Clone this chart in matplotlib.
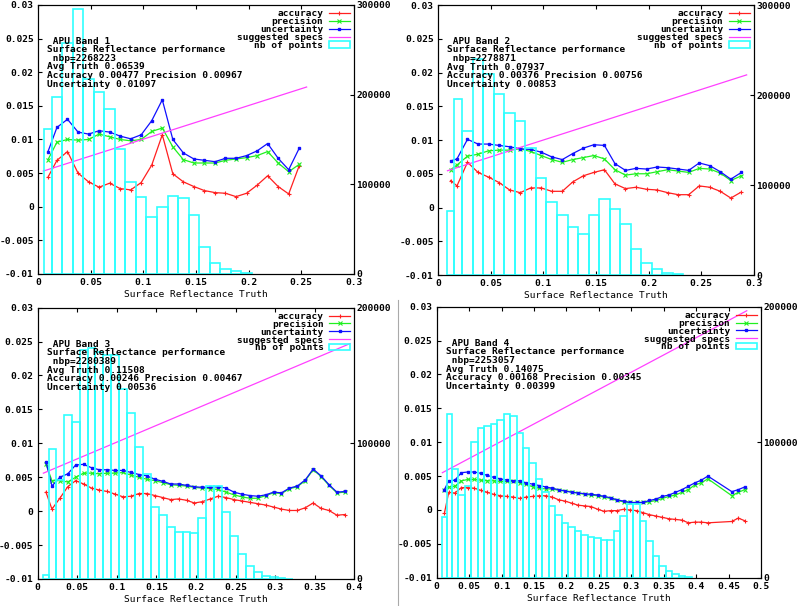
import numpy as np
import matplotlib.pyplot as plt
from matplotlib.lines import Line2D
from matplotlib.ticker import MultipleLocator, FuncFormatter

plt.rcParams['font.family'] = ['DejaVu Sans Mono']
plt.rcParams['font.weight'] = 'bold'
plt.rcParams['font.size'] = 6.8
plt.rcParams['axes.unicode_minus'] = False

# ---------------- Band 1
x1 = [0.0095, 0.018, 0.028, 0.038, 0.048, 0.058, 0.068, 0.078, 0.088, 0.098,
      0.108, 0.118, 0.128, 0.138, 0.148, 0.158, 0.168, 0.178, 0.188, 0.198,
      0.208, 0.218, 0.228, 0.238, 0.248]
acc1 = [0.0044, 0.0069, 0.0082, 0.0050, 0.0037, 0.0029, 0.0035, 0.0027, 0.0025, 0.0036,
        0.0062, 0.0107, 0.0049, 0.0037, 0.0030, 0.0024, 0.0021, 0.0020, 0.0015, 0.0020,
        0.0032, 0.0046, 0.0030, 0.0019, 0.0061]
prec1 = [0.0070, 0.0096, 0.0100, 0.0099, 0.0100, 0.0108, 0.0104, 0.0100, 0.0098, 0.0100,
         0.0112, 0.0117, 0.0089, 0.0070, 0.0065, 0.0065, 0.0065, 0.0069, 0.0071, 0.0073,
         0.0076, 0.0082, 0.0065, 0.0052, 0.0063]
unc1 = [0.0082, 0.0118, 0.0130, 0.0111, 0.0108, 0.0113, 0.0111, 0.0105, 0.0101, 0.0107,
        0.0128, 0.0159, 0.0100, 0.0080, 0.0071, 0.0069, 0.0067, 0.0072, 0.0072, 0.0076,
        0.0083, 0.0094, 0.0072, 0.0055, 0.0087]
n1 = [161500, 197500, 257300, 295200, 217600, 202400, 183800, 139200, 102100, 85400,
      63100, 74300, 87300, 84300, 65400, 30400, 12300, 5600, 3000, 1100]
spec1_x = [0.005, 0.255]
spec1_y = [0.0053, 0.0178]

# ---------------- Band 2
x2 = [0.012, 0.018, 0.028, 0.038, 0.048, 0.058, 0.068, 0.078, 0.088, 0.098,
      0.108, 0.118, 0.128, 0.138, 0.148, 0.158, 0.168, 0.178, 0.188, 0.198,
      0.208, 0.218, 0.228, 0.238, 0.248, 0.258, 0.268, 0.278, 0.288]
acc2 = [0.0040, 0.0032, 0.0067, 0.0052, 0.0045, 0.0037, 0.0026, 0.0022, 0.0029, 0.0029,
        0.0024, 0.0024, 0.0038, 0.0047, 0.0052, 0.0056, 0.0035, 0.0028, 0.0030, 0.0027,
        0.0026, 0.0022, 0.0019, 0.0019, 0.0032, 0.0030, 0.0024, 0.0014, 0.0023]
prec2 = [0.0056, 0.0063, 0.0076, 0.0079, 0.0084, 0.0085, 0.0085, 0.0087, 0.0083, 0.0077,
         0.0071, 0.0067, 0.0071, 0.0074, 0.0077, 0.0072, 0.0056, 0.0048, 0.0050, 0.0050,
         0.0053, 0.0056, 0.0054, 0.0052, 0.0058, 0.0057, 0.0051, 0.0040, 0.0047]
unc2 = [0.0069, 0.0072, 0.0101, 0.0094, 0.0094, 0.0092, 0.0090, 0.0087, 0.0086, 0.0082,
        0.0075, 0.0071, 0.0080, 0.0088, 0.0093, 0.0092, 0.0065, 0.0055, 0.0058, 0.0057,
        0.0060, 0.0059, 0.0057, 0.0055, 0.0066, 0.0062, 0.0053, 0.0042, 0.0052]
n2 = [71500, 195200, 160400, 240000, 223300, 201500, 179600, 171500, 140700, 107800,
      81100, 66300, 53700, 45200, 67000, 84800, 73700, 56700, 29300, 13000,
      6300, 2600, 700]
spec2_x = [0.009, 0.293]
spec2_y = [0.00545, 0.01965]

# ---------------- Band 3
x3 = [0.0105, 0.018, 0.028, 0.038, 0.048, 0.058, 0.068, 0.078, 0.088, 0.098,
      0.108, 0.118, 0.128, 0.138, 0.148, 0.158, 0.168, 0.178, 0.188, 0.198,
      0.208, 0.218, 0.228, 0.238, 0.248, 0.258, 0.268, 0.278, 0.288, 0.298,
      0.308, 0.318, 0.328, 0.338, 0.348, 0.358, 0.368, 0.378, 0.388]
acc3 = [0.0028, 0.0003, 0.0019, 0.0036, 0.0045, 0.0040, 0.0034, 0.0031, 0.0029, 0.0025,
        0.0021, 0.0022, 0.0026, 0.0026, 0.0023, 0.0020, 0.0017, 0.0018, 0.0016, 0.0012,
        0.0014, 0.0018, 0.0022, 0.0020, 0.0017, 0.0015, 0.0013, 0.0011, 0.0009, 0.0006,
        0.0003, 0.0001, 0.0001, 0.0005, 0.0012, 0.0004, 0.0001, -0.0006, -0.0005]
prec3 = [0.0069, 0.0045, 0.0045, 0.0043, 0.0050, 0.0056, 0.0056, 0.0055, 0.0056, 0.0056,
         0.0057, 0.0053, 0.0050, 0.0047, 0.0045, 0.0042, 0.0039, 0.0038, 0.0037, 0.0035,
         0.0034, 0.0033, 0.0032, 0.0028, 0.0024, 0.0021, 0.0019, 0.0019, 0.0023, 0.0027,
         0.0026, 0.0033, 0.0036, 0.0045, 0.0061, 0.0051, 0.0038, 0.0027, 0.0028]
unc3 = [0.0073, 0.0037, 0.0050, 0.0055, 0.0068, 0.0069, 0.0064, 0.0061, 0.0061, 0.0060,
        0.0060, 0.0057, 0.0054, 0.0052, 0.0047, 0.0044, 0.0040, 0.0040, 0.0038, 0.0036,
        0.0035, 0.0035, 0.0036, 0.0034, 0.0028, 0.0025, 0.0023, 0.0022, 0.0024, 0.0028,
        0.0027, 0.0034, 0.0037, 0.0046, 0.0062, 0.0052, 0.0039, 0.0028, 0.0029]
n3 = [2900, 96000, 73000, 120900, 115500, 168900, 170100, 167600, 165200, 165200,
      140000, 122200, 97100, 77400, 52900, 47500, 38000, 34900, 34900, 33700,
      44700, 68700, 68700, 49200, 32000, 18500, 9800, 4800, 2500, 1200,
      600, 300]
spec3_x = [0.0072, 0.3945]
spec3_y = [0.0056, 0.0247]

# ---------------- Band 4
x4 = [0.0118, 0.0185, 0.028, 0.038, 0.048, 0.058, 0.068, 0.078, 0.088, 0.098,
      0.108, 0.118, 0.128, 0.138, 0.148, 0.158, 0.168, 0.178, 0.188, 0.198,
      0.208, 0.218, 0.228, 0.238, 0.248, 0.258, 0.268, 0.278, 0.288, 0.298,
      0.308, 0.318, 0.328, 0.338, 0.348, 0.358, 0.368, 0.378, 0.388, 0.398,
      0.408, 0.418, 0.455, 0.465, 0.475]
acc4 = [-0.0005, 0.0026, 0.0025, 0.0033, 0.0033, 0.0032, 0.0029, 0.0026, 0.0023, 0.0021,
        0.0020, 0.0019, 0.0017, 0.0019, 0.0020, 0.0021, 0.0021, 0.0019, 0.0015, 0.0013,
        0.0010, 0.0007, 0.0006, 0.0005, 0.0001, -0.0002, -0.0001, -0.0001, 0.0001, 0.0000,
        -0.0001, -0.0004, -0.0007, -0.0009, -0.0011, -0.0013, -0.0014, -0.0015, -0.0019, -0.0018,
        -0.0018, -0.0019, -0.0017, -0.0012, -0.0016]
prec4 = [0.0030, 0.0034, 0.0035, 0.0043, 0.0045, 0.0045, 0.0044, 0.0043, 0.0043, 0.0042,
         0.0042, 0.0042, 0.0040, 0.0038, 0.0034, 0.0032, 0.0031, 0.0031, 0.0029, 0.0028,
         0.0027, 0.0025, 0.0023, 0.0022, 0.0021, 0.0019, 0.0017, 0.0014, 0.0012, 0.0011,
         0.0011, 0.0011, 0.0012, 0.0014, 0.0017, 0.0020, 0.0022, 0.0026, 0.0030, 0.0037,
         0.0040, 0.0046, 0.0021, 0.0026, 0.0030]
unc4 = [0.0030, 0.0043, 0.0044, 0.0055, 0.0056, 0.0056, 0.0054, 0.0051, 0.0048, 0.0046,
        0.0044, 0.0043, 0.0043, 0.0040, 0.0038, 0.0036, 0.0034, 0.0032, 0.0030, 0.0028,
        0.0026, 0.0025, 0.0024, 0.0023, 0.0022, 0.0020, 0.0018, 0.0015, 0.0013, 0.0011,
        0.0011, 0.0011, 0.0014, 0.0016, 0.0020, 0.0022, 0.0026, 0.0030, 0.0035, 0.0040,
        0.0044, 0.0050, 0.0027, 0.0030, 0.0034]
n4 = [45000, 120800, 80000, 61000, 68000, 99900, 110700, 112200, 113200, 116400,
      120800, 119300, 106500, 95400, 84400, 72600, 63500, 52900, 46200, 40600,
      37600, 34400, 31500, 30300, 29000, 27800, 27800, 34700, 45800, 54100,
      54100, 42100, 27100, 16000, 8600, 5200, 2700, 1200, 300]
spec4_x = [0.0087, 0.478]
spec4_y = [0.0055, 0.0294]

bands = ['APU Band 1', 'APU Band 2', 'APU Band 3', 'APU Band 4']
nbp = [2268223, 2278871, 2280389, 2253057]
avg_truth = ['0.06539', '0.07937', '0.11508', '0.14075']
accuracy = ['0.00477', '0.00376', '0.00246', '0.00168']
precision = ['0.00967', '0.00756', '0.00467', '0.00345']
uncertainty = ['0.01097', '0.00853', '0.00536', '0.00399']

RED = '#ff2020'
GREEN = '#20f020'
BLUE = '#1010ff'
MAGENTA = '#ff40ff'
CYAN = '#30ffff'


def fmt_left(v, pos):
    if abs(v) < 1e-12:
        return '0'
    return '%g' % round(v, 6)


def draw_panel(rect, i, x, acc, prec, unc, counts, sx, sy, xmax, nmax):
    ax = fig.add_axes(rect)
    ax.plot(x, acc, color=RED, marker='+', ms=3.5, mew=0.8, lw=0.9, label='accuracy')
    ax.plot(x, prec, color=GREEN, marker='x', ms=2.5, mew=0.8, lw=0.9, label='precision')
    ax.plot(x, unc, color=BLUE, marker='s', ms=2, lw=0.9, label='uncertainty')
    ax.plot(sx, sy, color=MAGENTA, lw=0.9, label='suggested specs')
    ax.set_xlim(0, xmax)
    ax.set_ylim(-0.01, 0.03)
    ax.xaxis.set_major_locator(MultipleLocator(0.05))
    ax.yaxis.set_major_locator(MultipleLocator(0.005))
    ax.xaxis.set_major_formatter(FuncFormatter(fmt_left))
    ax.yaxis.set_major_formatter(FuncFormatter(fmt_left))
    ax.tick_params(direction='in', length=3, width=0.8, top=True, right=True, pad=3)
    ax.set_xlabel('Surface Reflectance Truth', labelpad=2)
    for s in ax.spines.values():
        s.set_linewidth(0.8)

    # histogram: boxes touching half-way between neighbouring bin centres
    c = np.array(x[:len(counts)])
    mids = (c[1:] + c[:-1]) / 2
    left = np.r_[c[0] - (c[1] - c[0]) / 2, mids]
    right = np.r_[mids, c[-1] + (c[-1] - c[-2]) / 2]
    ax2 = ax.twinx()
    ax2.bar(left, counts, width=right - left, align='edge', fill=False,
            edgecolor=CYAN, lw=1.2, label='nb of points')
    ax2.set_ylim(0, nmax)
    ax2.yaxis.set_major_locator(MultipleLocator(100000))
    ax2.yaxis.set_major_formatter(FuncFormatter(lambda v, p: '%d' % v))
    ax2.tick_params(direction='in', length=3, width=0.8, pad=1.5)

    h1, l1 = ax.get_legend_handles_labels()
    h2, l2 = ax2.get_legend_handles_labels()
    ax2.legend(h1 + h2, l1 + l2, loc='upper right', frameon=False, markerfirst=False,
               labelspacing=-0.12, handlelength=2.2, handletextpad=0.6,
               borderpad=0.15, borderaxespad=0.3, fontsize=6.8)

    lines = [' ' + bands[i],
             'Surface Reflectance performance',
             ' nbp=%d' % nbp[i],
             'Avg Truth ' + avg_truth[i],
             'Accuracy %s Precision %s' % (accuracy[i], precision[i]),
             'Uncertainty ' + uncertainty[i]]
    for k, t in enumerate(lines):
        ax2.text(0.028, 0.866 - k * 0.032, t, transform=ax2.transAxes,
                 va='center', ha='left')
    return ax, ax2


fig = plt.figure(figsize=(8, 6.06), dpi=100)
draw_panel([0.0475, 0.5479, 0.395, 0.4439], 0, x1, acc1, prec1, unc1, n1,
           spec1_x, spec1_y, 0.3, 300000)
draw_panel([0.5475, 0.5462, 0.395, 0.4455], 1, x2, acc2, prec2, unc2, n2,
           spec2_x, spec2_y, 0.3, 300000)
draw_panel([0.0471, 0.0446, 0.3958, 0.4477], 2, x3, acc3, prec3, unc3, n3,
           spec3_x, spec3_y, 0.4, 200000)
draw_panel([0.5459, 0.0467, 0.4054, 0.4472], 3, x4, acc4, prec4, unc4, n4,
           spec4_x, spec4_y, 0.5, 200000)

# thin separator between the two lower pictures
fig.add_artist(Line2D([0.4975, 0.4975], [0.0, 0.505], color='#aaaaaa', lw=0.8))

fig.savefig('out.png', dpi=100)
